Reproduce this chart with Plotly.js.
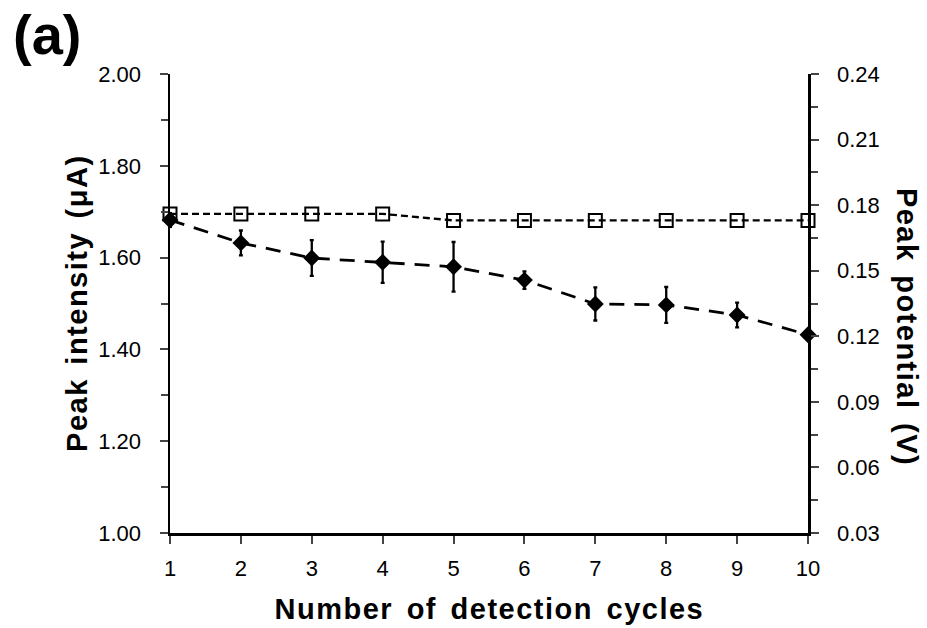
<!DOCTYPE html>
<html><head><meta charset="utf-8">
<script src="https://cdn.plot.ly/plotly-3.0.1.min.js"></script>
<style>
body{margin:0;padding:0;background:#fff}
#chart{width:927px;height:628px}
.annotation[data-index="0"] text,
.annotation[data-index="1"] text,
.annotation[data-index="2"] text{letter-spacing:1.5px;word-spacing:4px}
</style>
</head><body><div id="chart"></div>
<script>
const cycles = [1,2,3,4,5,6,7,8,9,10];
const peakIntensity = [1.682,1.632,1.599,1.590,1.580,1.551,1.499,1.497,1.475,1.432];
const intensityErr = [0.015,0.027,0.039,0.045,0.054,0.019,0.036,0.039,0.027,0.010];
const peakPotential = [0.176,0.176,0.176,0.176,0.173,0.173,0.173,0.173,0.173,0.173];
const leftTicks = [1.0,1.2,1.4,1.6,1.8,2.0];
const rightTicks = [0.03,0.06,0.09,0.12,0.15,0.18,0.21,0.24];

const font = 'Liberation Sans, Arial, sans-serif';
const traces = [
  {x: cycles, y: peakPotential, yaxis: 'y2', type: 'scatter', mode: 'lines+markers',
   line: {color: '#000', width: 2.3, dash: '7px,4px'},
   marker: {symbol: 'square-open', size: 13, color: '#000', line: {width: 2, color: '#000'}},
   cliponaxis: false, showlegend: false},
  {x: cycles, y: peakIntensity, type: 'scatter', mode: 'lines+markers',
   line: {color: '#000', width: 2.8, dash: '15px,10px'},
   marker: {symbol: 'diamond', size: 13, color: '#000'},
   error_y: {type: 'data', array: intensityErr, visible: true, color: '#000', thickness: 2.3, width: 2},
   cliponaxis: false, showlegend: false}
];
const layout = {
  width: 927, height: 628,
  margin: {l: 170, r: 119, t: 74, b: 95},
  paper_bgcolor: '#fff', plot_bgcolor: '#fff',
  font: {family: font, color: '#000', size: 22},
  xaxis: {range: [1,10], tickvals: cycles, ticks: 'outside', ticklen: 8, tickwidth: 2,
    showline: true, linewidth: 2.5, linecolor: '#000', showgrid: false, zeroline: false,
    tickfont: {size: 22}, ticklabelstandoff: 6},
  yaxis: {range: [1,2], tickvals: leftTicks, ticktext: leftTicks.map(v => v.toFixed(2)),
    ticks: 'outside', ticklen: 8, tickwidth: 2,
    minor: {dtick: 0.1, tick0: 1, ticks: 'outside', ticklen: 7, tickwidth: 2, showgrid: false},
    showline: true, linewidth: 2.5, linecolor: '#000', showgrid: false, zeroline: false,
    tickfont: {size: 22}, ticklabelstandoff: 14},
  yaxis2: {range: [0.03,0.24], overlaying: 'y', side: 'right', tickvals: rightTicks,
    ticktext: rightTicks.map(v => v.toFixed(2)),
    ticks: 'outside', ticklen: 8, tickwidth: 2,
    minor: {dtick: 0.015, tick0: 0.03, ticks: 'outside', ticklen: 7, tickwidth: 2, showgrid: false},
    showline: true, linewidth: 2.5, linecolor: '#000', showgrid: false, zeroline: false,
    tickfont: {size: 22}, ticklabelstandoff: 14},
  annotations: [
    {text: '<b>Number of detection cycles</b>', xref: 'paper', yref: 'paper', x: 0.5, y: -0.166,
     showarrow: false, font: {size: 29}, xanchor: 'center', yanchor: 'middle'},
    {text: '<b>Peak intensity (μA)</b>', xref: 'paper', yref: 'paper', x: -0.147, y: 0.5,
     textangle: -90, showarrow: false, font: {size: 29}, xanchor: 'center', yanchor: 'middle'},
    {text: '<b>Peak potential (V)</b>', xref: 'paper', yref: 'paper', x: 1.156, y: 0.449,
     textangle: 90, showarrow: false, font: {size: 29}, xanchor: 'center', yanchor: 'middle'},
    {text: '<b>(a)</b>', xref: 'paper', yref: 'paper', x: -0.25, y: 1.085,
     showarrow: false, font: {size: 56}, xanchor: 'left', yanchor: 'middle'}
  ]
};
Plotly.newPlot('chart', traces, layout, {displayModeBar: false, staticPlot: true});
</script></body></html>
